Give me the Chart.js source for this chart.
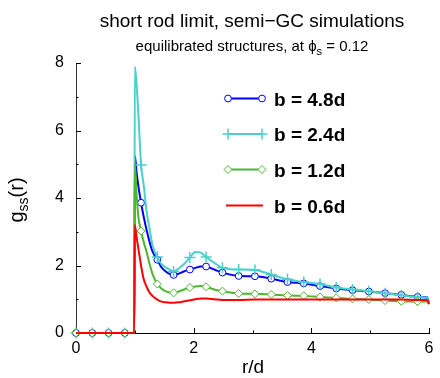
<!DOCTYPE html>
<html><head><meta charset="utf-8">
<script src="https://cdn.jsdelivr.net/npm/chart.js@4.4.1/dist/chart.umd.min.js"></script>
<style>html,body{margin:0;padding:0;background:#fff}#wrap{width:440px;height:378px}</style>
</head><body><div id="wrap"><canvas id="c" width="440" height="378"></canvas></div>
<script>
const FONT = '"Liberation Sans", Arial, Helvetica, sans-serif';

// r/d values (shared x grid)
const r = [0, 0.2765, 0.553, 0.8295, 0.99, 1.0, 1.03, 1.06, 1.106, 1.15, 1.2, 1.25, 1.3, 1.3825, 1.45, 1.52, 1.59, 1.659, 1.75, 1.84, 1.9355, 2.03, 2.12, 2.212, 2.35, 2.4885, 2.6265, 2.765, 3.0415, 3.318, 3.5945, 3.871, 4.1475, 4.424, 4.7005, 4.977, 5.2535, 5.53, 5.8065, 5.97, 6.0];
// g_ss(r) series
const gB48 = [0,0,0,0,0, 5.25, 4.75, 4.35, 3.86, 3.45, 3.05, 2.7, 2.42, 2.17, 1.95, 1.83, 1.75, 1.72, 1.76, 1.83, 1.88, 1.93, 1.97, 1.97, 1.88, 1.79, 1.73, 1.69, 1.68, 1.61, 1.51, 1.47, 1.39, 1.32, 1.27, 1.23, 1.18, 1.13, 1.07, 1.05, 0.88];
const gB24 = [0,0,0,0,0, 7.9, 7.35, 6.5, 4.98, 4.4, 3.6, 3.1, 2.6, 2.25, 2.05, 1.95, 1.88, 1.82, 1.92, 2.05, 2.24, 2.40, 2.38, 2.25, 2.08, 1.93, 1.89, 1.88, 1.87, 1.73, 1.59, 1.51, 1.45, 1.35, 1.29, 1.24, 1.18, 1.12, 1.06, 1.04, 0.88];
const gB12 = [0,0,0,0,0, 5.0, 4.1, 3.44, 3.02, 2.7, 2.4, 2.05, 1.75, 1.45, 1.32, 1.24, 1.2, 1.19, 1.23, 1.29, 1.35, 1.38, 1.39, 1.37, 1.29, 1.24, 1.2, 1.17, 1.16, 1.14, 1.11, 1.10, 1.07, 1.04, 1.01, 0.99, 0.96, 0.94, 0.93, 0.93, 0.85];
const gB06 = [0,0,0,0,0, 3.2, 2.85, 2.5, 2.0, 1.6, 1.37, 1.2, 1.1, 0.99, 0.93, 0.91, 0.90, 0.90, 0.91, 0.94, 0.97, 1.0, 1.02, 1.02, 1.0, 0.98, 0.98, 0.98, 0.99, 0.99, 0.99, 0.99, 0.99, 0.99, 0.99, 0.99, 0.99, 0.99, 0.98, 0.98, 0.86];
const seriesLabels = ['b = 4.8d', 'b = 2.4d', 'b = 1.2d', 'b = 0.6d'];
const xTicks = [0, 2, 4, 6];
const yTicks = [0, 2, 4, 6, 8];
const markerSpacing = 0.2765;

const styles = [
  {color:'#0000ff', style:'circle', radius:3.4, order:3},
  {color:'#48d1cc', style:'cross', radius:5.5, order:2},
  {color:'#4cb82e', style:'rectRot', radius:4, order:1},
  {color:'#ff0000', style:false, radius:0, order:0}
];
const allSeries = [gB48, gB24, gB12, gB06];

function isMarker(x){ const k = x/markerSpacing; return Math.abs(k-Math.round(k)) < 1e-3; }

const datasets = allSeries.map((arr, si) => {
  const st = styles[si];
  return {
    label: seriesLabels[si],
    data: r.map((x,i)=>({x:x, y:arr[i]})),
    borderColor: st.color,
    backgroundColor: '#ffffff',
    borderWidth: 2,
    cubicInterpolationMode: 'monotone',
    pointStyle: st.style || 'circle',
    pointRadius: ctx => (st.style && ctx.raw && isMarker(ctx.raw.x)) ? st.radius : 0,
    pointBorderColor: st.color,
    pointBackgroundColor: '#ffffff',
    pointBorderWidth: st.style==='cross' ? 1.5 : 1,
    order: st.order,
    clip: false
  };
});

function drawParts(ctx, parts, x, y, align){
  let total = 0;
  parts.forEach(p => { ctx.font = (p.bold?'bold ':'') + p.size + 'px ' + FONT; p.w = ctx.measureText(p.t).width; total += p.w; });
  let cx = align==='center' ? x - total/2 : x;
  parts.forEach(p => { ctx.font = (p.bold?'bold ':'') + p.size + 'px ' + FONT; ctx.fillText(p.t, cx, y + (p.dy||0)); cx += p.w; });
}

const textPlugin = {
  id:'texts',
  beforeDatasetsDraw(chart){
    const ctx = chart.ctx, xs = chart.scales.x, ys = chart.scales.y, a = chart.chartArea;
    ctx.save();
    ctx.strokeStyle = '#000'; ctx.lineWidth = 1;
    for (let v=0; v<=6; v++){
      const px = Math.round(xs.getPixelForValue(v))+0.5, len = v%2===0 ? 5 : 2.5;
      ctx.beginPath(); ctx.moveTo(px, a.bottom); ctx.lineTo(px, a.bottom-len); ctx.stroke();
    }
    for (let v=0; v<=8; v++){
      const py = Math.round(ys.getPixelForValue(v))+0.5, len = v%2===0 ? 5 : 2.5;
      ctx.beginPath(); ctx.moveTo(a.left, py); ctx.lineTo(a.left+len, py); ctx.stroke();
    }
    ctx.restore();
  },
  afterDraw(chart){
    const ctx = chart.ctx;
    ctx.save();
    ctx.fillStyle = '#000'; ctx.textBaseline = 'alphabetic'; ctx.textAlign = 'left';
    drawParts(ctx, [{t:'short rod limit, semi\u2212GC simulations', size:19}], 252, 27, 'center');
    drawParts(ctx, [{t:'equilibrated structures, at \u03D5', size:15},{t:'s', size:11, dy:4},{t:' = 0.12', size:15}], 252, 51, 'center');
    drawParts(ctx, [{t:'r/d', size:19}], 253, 373, 'center');
    ctx.save();
    ctx.translate(23, 200); ctx.rotate(-Math.PI/2);
    drawParts(ctx, [{t:'g', size:20},{t:'ss', size:14, dy:5},{t:'(r)', size:20}], 0, 0, 'center');
    ctx.restore();
    // legend
    const rows = [98.5, 134, 169.5, 205.5];
    styles.forEach((st, i) => {
      const y = rows[i], x1 = 228, x2 = 262;
      ctx.strokeStyle = st.color; ctx.lineWidth = 2;
      ctx.beginPath(); ctx.moveTo(st.style?x1:226, y); ctx.lineTo(st.style?x2:263, y); ctx.stroke();
      if (st.style){
        [x1,x2].forEach(px => {
          ctx.save();
          ctx.fillStyle = '#ffffff'; ctx.strokeStyle = st.color;
          ctx.lineWidth = st.style==='cross' ? 1.5 : 1;
          Chart.helpers.drawPoint(ctx, {pointStyle: st.style, radius: st.radius, borderWidth: ctx.lineWidth, rotation:0}, px, y);
          ctx.restore();
        });
      }
      ctx.fillStyle = '#000';
      drawParts(ctx, [{t:seriesLabels[i], size:19, bold:true}], 274, y+7, 'left');
    });
    ctx.restore();
  }
};

const chart = new Chart(document.getElementById('c').getContext('2d'), {
  type:'line',
  data:{datasets},
  options:{
    responsive:false, devicePixelRatio:1, animation:false, events:[],
    layout:{padding:{top:63, right:11, left:0, bottom:0}},
    plugins:{legend:{display:false}, tooltip:{enabled:false}, title:{display:false}},
    scales:{
      x:{type:'linear', min:0, max:6, afterFit(s){ s.height = 45; },
        afterBuildTicks(s){ s.ticks = xTicks.map(v=>({value:v})); },
        ticks:{autoSkip:false, maxRotation:0, padding:6, color:'#000', font:{size:16, family:FONT}},
        grid:{display:false, drawTicks:false}, border:{display:true, color:'#000', width:1}},
      y:{type:'linear', min:0, max:8, afterFit(s){ s.width = 76; },
        afterBuildTicks(s){ s.ticks = yTicks.map(v=>({value:v})); },
        ticks:{autoSkip:false, padding:12, color:'#000', font:{size:16, family:FONT}},
        grid:{display:false, drawTicks:false}, border:{display:true, color:'#333', width:1}}
    }
  },
  plugins:[textPlugin]
});
</script></body></html>
